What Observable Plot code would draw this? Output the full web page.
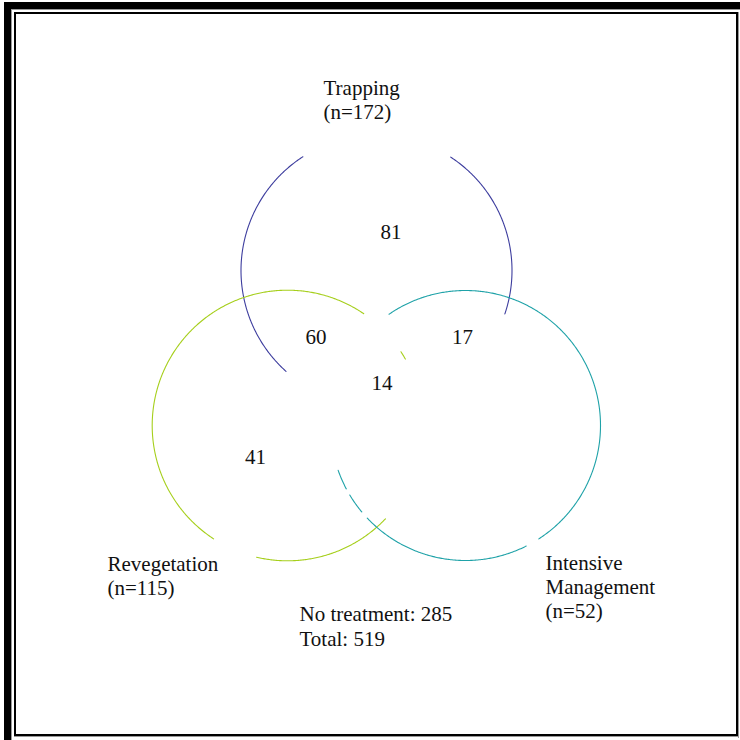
<!DOCTYPE html>
<html><head><meta charset="utf-8">
<script src="https://cdn.jsdelivr.net/npm/d3@7"></script>
<script src="https://cdn.jsdelivr.net/npm/@observablehq/plot@0.6"></script>
<style>
html,body{margin:0;padding:0;background:#fff;}
#wrap{position:relative;width:740px;height:740px;overflow:hidden;background:#fff;}
.b{position:absolute;}
#chart{position:absolute;left:0;top:0;}
</style></head><body>
<div id="wrap">
  <div class="b" style="left:4px;top:2px;width:7px;height:738px;background:#000"></div>
  <div class="b" style="left:4px;top:2px;width:736px;height:7px;background:#000"></div>
  <div class="b" style="left:11px;top:9px;width:729px;height:1px;background:#999"></div>
  <div class="b" style="left:11px;top:9px;width:1px;height:731px;background:#999"></div>
  <div class="b" style="left:14px;top:12px;width:724px;height:724px;border:2px solid #000;box-sizing:border-box"></div>
  <div class="b" style="left:738px;top:12px;width:1px;height:726px;background:#999"></div>
  <div class="b" style="left:14px;top:736px;width:725px;height:1px;background:#999"></div>
  <div id="chart"></div>
</div>
<script>
// ---- data ----
const sets = ["Trapping", "Revegetation", "Intensive Management"];
const setSizes = [172, 115, 52];
const setLabelLines = [["Trapping"], ["Revegetation"], ["Intensive", "Management"]];
const regionNames = ["Trapping only", "Trapping & Revegetation", "Trapping & Intensive", "All three", "Revegetation only"];
const regionCounts = [81, 60, 17, 14, 41];
const noTreatment = 285;
const total = 519;

// ---- layout (diagram geometry) ----
const setColors = ["#3d3d9e", "#a6cf1c", "#1fa2a8"];
const circleCx = [376, 287, 465];
const circleCy = [270, 425, 425];
const circleR = [135.5, 135.3, 135];
// visible arc spans per set, degrees (screen orientation)
const arcSpans = [
  [[131.9, 237.1], [-56.8, 18.7]],
  [[123.1, 304.3], [327.0, 330.6], [43.6, 103.2]],
  [[-124.5, 57.1], [63.3, 136.7], [140.2, 149.0], [152.0, 160.6]]
];
const setLabelX = [323, 107, 545];
const setLabelBaseline = [92, 568, 567];
const regionX = [390.5, 315.5, 462, 381.5, 255];
const regionBaseline = [238, 343, 343, 389, 463];
const footX = 299, footBaseline = 618;

// ---- build tables ----
const arcPts = [];
sets.forEach((s, i) => {
  arcSpans[i].forEach((span, j) => {
    const [a0, a1] = span;
    const n = Math.max(2, Math.ceil((a1 - a0) / 0.5));
    for (let k = 0; k <= n; k++) {
      const a = (a0 + (a1 - a0) * k / n) * Math.PI / 180;
      arcPts.push({set: s, id: s + j, x: circleCx[i] + circleR[i] * Math.cos(a), y: circleCy[i] + circleR[i] * Math.sin(a)});
    }
  });
});
const setLabels = sets.map((s, i) => ({
  text: [...setLabelLines[i], `(n=${setSizes[i]})`].join("\n"),
  x: setLabelX[i], y: setLabelBaseline[i]
}));
const regionLabels = regionNames.map((r, i) => ({text: String(regionCounts[i]), x: regionX[i], y: regionBaseline[i]}));
const foot = [{text: `No treatment: ${noTreatment}\nTotal: ${total}`, x: footX, y: footBaseline}];

const FS = 21;
const font = "'Liberation Serif', 'Times New Roman', serif";
const chart = Plot.plot({
  width: 740, height: 740, margin: 0,
  style: {background: "transparent", overflow: "visible"},
  x: {domain: [0, 740], range: [0, 740], axis: null},
  y: {domain: [0, 740], range: [0, 740], axis: null},
  color: {domain: sets, range: setColors},
  marks: [
    Plot.line(arcPts, {x: "x", y: "y", z: "id", stroke: "set", strokeWidth: 1.1}),
    Plot.text(setLabels, {x: "x", y: "y", text: "text", textAnchor: "start", lineAnchor: "top", dy: -0.71 * FS, lineHeight: 1.15, fontSize: FS, fontFamily: font, fill: "#111"}),
    Plot.text(regionLabels, {x: "x", y: "y", text: "text", textAnchor: "middle", lineAnchor: "top", dy: -0.71 * FS, fontSize: FS, fontFamily: font, fill: "#111"}),
    Plot.text(foot, {x: "x", y: "y", text: "text", textAnchor: "start", lineAnchor: "top", dy: -0.71 * FS, lineHeight: 1.19, fontSize: FS, fontFamily: font, fill: "#111"})
  ]
});
document.getElementById("chart").appendChild(chart);
</script>
</body></html>
